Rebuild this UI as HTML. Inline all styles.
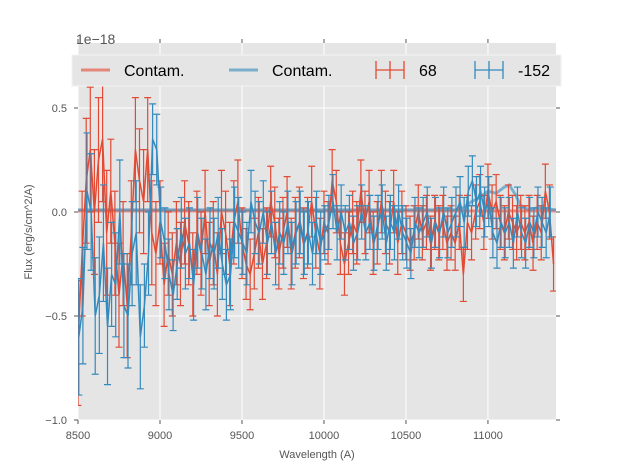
<!DOCTYPE html>
<html><head><meta charset="utf-8"><style>
html,body{margin:0;padding:0;background:#fff}
svg{display:block;font-family:"Liberation Sans",sans-serif}
</style></head><body>
<svg id="chart" width="617" height="467">
<rect x="78" y="43" width="478" height="377" fill="#e5e5e5"/>
<g id="grid"></g>
<g id="contam"></g>
<g id="series"></g>
<g id="axes"></g>
<text x="76" y="44" font-size="14" fill="#555">1e−18</text>
<text x="317" y="458" font-size="11" fill="#555" text-anchor="middle">Wavelength (A)</text>
<text transform="translate(32,232) rotate(-90)" font-size="11" fill="#555" text-anchor="middle">Flux (erg/s/cm^2/A)</text>
<g>
<rect x="72" y="55" width="489" height="31" fill="#e5e5e5" stroke="#f2f2f2"/>
<line x1="81" y1="70" x2="110" y2="70" stroke="#e24a33" stroke-width="3" opacity="0.6"/>
<text x="124" y="76" font-size="16" fill="#000">Contam.</text>
<line x1="229" y1="70" x2="258" y2="70" stroke="#348abd" stroke-width="3" opacity="0.6"/>
<text x="272" y="76" font-size="16" fill="#000">Contam.</text>
<g stroke="#e24a33" stroke-width="1.3"><line x1="376" y1="70" x2="404" y2="70"/><line x1="390" y1="61" x2="390" y2="79"/><line x1="376" y1="61" x2="376" y2="79"/><line x1="404" y1="61" x2="404" y2="79"/></g>
<text x="419" y="76" font-size="16" fill="#000">68</text>
<g stroke="#348abd" stroke-width="1.3"><line x1="475" y1="70" x2="503" y2="70"/><line x1="489" y1="61" x2="489" y2="79"/><line x1="475" y1="61" x2="475" y2="79"/><line x1="503" y1="61" x2="503" y2="79"/></g>
<text x="518" y="76" font-size="16" fill="#000">-152</text>
</g>
</svg>
<script>
const xTicks=[8500,9000,9500,10000,10500,11000];
const yTicks=[-1.0,-0.5,0,0.5];
const yTickLabels=["−1.0","−0.5","0.0","0.5"];
const start68=8500, step68=25;
const flux68=[-0.63,-0.2,0.15,0.3,0.0,0.25,0.35,-0.1,0.1,-0.15,-0.4,-0.2,-0.45,-0.1,0.3,0.15,0.05,0.3,-0.1,-0.2,-0.05,-0.35,-0.2,-0.3,-0.15,-0.25,-0.05,-0.15,-0.3,-0.1,-0.2,0.0,-0.25,-0.15,-0.3,0.0,-0.1,-0.25,-0.05,0.05,-0.15,-0.25,-0.3,-0.2,-0.1,-0.25,-0.15,0.05,-0.05,-0.2,-0.1,0.0,-0.2,-0.1,-0.05,-0.15,-0.1,0.05,-0.1,-0.2,-0.05,-0.1,0.15,0.05,-0.15,-0.25,-0.15,-0.05,-0.1,0.1,-0.05,0.05,-0.15,-0.1,0.05,-0.05,-0.1,0.05,-0.15,-0.05,-0.1,-0.15,-0.1,0.0,-0.1,-0.05,-0.15,-0.05,-0.1,-0.05,-0.15,-0.1,-0.15,-0.05,-0.3,-0.05,-0.1,0.0,0.05,-0.05,0.1,0.0,0.05,-0.05,-0.1,0.0,-0.05,-0.1,-0.05,-0.1,-0.05,-0.15,-0.05,-0.1,0.1,0.0,-0.25];
const err68=[0.3,0.3,0.3,0.3,0.3,0.3,0.3,0.3,0.25,0.25,0.25,0.25,0.25,0.25,0.25,0.25,0.25,0.25,0.25,0.25,0.2,0.2,0.2,0.2,0.2,0.2,0.2,0.2,0.2,0.2,0.2,0.2,0.2,0.2,0.2,0.2,0.2,0.2,0.2,0.2,0.17,0.17,0.17,0.17,0.17,0.17,0.17,0.17,0.17,0.17,0.17,0.17,0.17,0.17,0.17,0.17,0.17,0.17,0.17,0.17,0.15,0.15,0.15,0.15,0.15,0.15,0.15,0.15,0.15,0.15,0.15,0.15,0.15,0.15,0.15,0.15,0.15,0.15,0.15,0.15,0.13,0.13,0.13,0.13,0.13,0.13,0.13,0.13,0.13,0.13,0.13,0.13,0.13,0.13,0.13,0.13,0.13,0.13,0.13,0.13,0.13,0.13,0.13,0.13,0.13,0.13,0.13,0.13,0.13,0.13,0.13,0.13,0.13,0.13,0.13,0.13,0.13];
const start152=8505, step152=25;
const flux152=[-0.6,-0.45,0.1,0.0,-0.5,-0.4,-0.15,-0.55,-0.3,-0.35,0.0,-0.45,-0.5,-0.2,-0.1,-0.6,-0.45,-0.2,0.35,0.3,-0.05,-0.15,-0.3,-0.4,-0.25,-0.1,-0.2,-0.15,-0.35,-0.1,-0.2,-0.3,-0.15,-0.2,-0.1,-0.25,-0.35,-0.3,-0.05,-0.1,-0.15,-0.2,0.05,-0.05,-0.1,0.0,-0.15,-0.05,-0.2,-0.1,-0.15,-0.05,-0.2,-0.1,-0.05,-0.15,-0.1,-0.2,-0.05,-0.15,-0.1,-0.05,0.05,-0.1,0.0,-0.1,-0.05,-0.15,-0.1,0.0,-0.1,-0.05,-0.15,-0.05,0.0,-0.15,-0.05,-0.1,0.0,-0.1,-0.15,-0.2,-0.05,-0.1,-0.05,0.0,-0.15,-0.05,-0.1,0.0,-0.1,-0.05,0.0,0.05,-0.05,0.1,0.15,0.05,0.1,0.0,0.05,-0.1,-0.15,-0.05,-0.1,-0.05,-0.15,0.0,-0.1,-0.15,-0.05,-0.1,0.0,-0.05,-0.1,0.0];
const err152=[0.28,0.28,0.28,0.28,0.28,0.28,0.28,0.28,0.25,0.25,0.25,0.25,0.25,0.25,0.25,0.25,0.2,0.2,0.17,0.17,0.17,0.17,0.17,0.17,0.17,0.17,0.17,0.17,0.17,0.17,0.17,0.17,0.17,0.17,0.17,0.17,0.17,0.17,0.17,0.17,0.15,0.15,0.15,0.15,0.15,0.15,0.15,0.15,0.15,0.15,0.15,0.15,0.15,0.15,0.15,0.15,0.15,0.15,0.15,0.15,0.13,0.13,0.13,0.13,0.13,0.13,0.13,0.13,0.13,0.13,0.13,0.13,0.13,0.13,0.13,0.13,0.13,0.13,0.13,0.13,0.12,0.12,0.12,0.12,0.12,0.12,0.12,0.12,0.12,0.12,0.12,0.12,0.12,0.12,0.12,0.12,0.12,0.12,0.12,0.12,0.12,0.12,0.12,0.12,0.12,0.12,0.12,0.12,0.12,0.12,0.12,0.12,0.12,0.12,0.12,0.12];
const contamRedX=[8500,11415];
const contamRedY=[0.005,0.005];
const contamBlueX=[8500,10800,10850,10900,10950,11000,11050,11100,11130,11170,11200,11250,11300,11415];
const contamBlueY=[0.01,0.01,0.02,0.05,0.07,0.1,0.09,0.12,0.13,0.08,0.03,0.01,0.02,0.01];

const X0=78,X1=556,XMIN=8500,XMAX=11415,Y0=420,Y1=43,YMIN=-1.0,YMAX=0.8125;
const sx=v=>X0+(v-XMIN)/(XMAX-XMIN)*(X1-X0);
const sy=v=>Y0-(v-YMIN)/(YMAX-YMIN)*(Y0-Y1);
const NS="http://www.w3.org/2000/svg";
function mk(tag,attrs,parent){const e=document.createElementNS(NS,tag);for(const k in attrs)e.setAttribute(k,attrs[k]);parent.appendChild(e);return e;}
const grid=document.getElementById('grid'),axes=document.getElementById('axes'),ser=document.getElementById('series'),con=document.getElementById('contam');
xTicks.forEach(t=>{
  const g=mk('line',{x1:sx(t),x2:sx(t),y1:Y1,y2:Y0,stroke:'#fff','stroke-width':1},grid);
  
  
  mk('line',{x1:sx(t),x2:sx(t),y1:Y0,y2:Y0+4,stroke:'#555'},axes);
  mk('line',{x1:sx(t),x2:sx(t),y1:Y1,y2:Y1-4,stroke:'#555'},axes);
  const l=mk('text',{x:sx(t),y:Y0+19,'font-size':11,fill:'#555','text-anchor':'middle'},axes);
  l.textContent=t;
  
  
});
yTicks.forEach((t,i)=>{
  const g=mk('line',{x1:X0,x2:X1,y1:sy(t),y2:sy(t),stroke:'#fff','stroke-width':1},grid);
  
  
  mk('line',{x1:X0-4,x2:X0,y1:sy(t),y2:sy(t),stroke:'#555'},axes);
  mk('line',{x1:X1,x2:X1+4,y1:sy(t),y2:sy(t),stroke:'#555'},axes);
  const l=mk('text',{x:X0-11,y:sy(t)+4,'font-size':11,fill:'#555','text-anchor':'end'},axes);
  l.textContent=yTickLabels[i];
  
  
});
function contam(xs,ys,col,name){
  const p=mk('polyline',{points:xs.map((x,i)=>sx(x)+','+sy(ys[i])).join(' '),fill:'none',stroke:col,'stroke-width':3,opacity:0.6},con);
  
  
}
contam(contamRedX,contamRedY,'#e24a33','contam-line-red');
contam(contamBlueX,contamBlueY,'#348abd','contam-line-blue');
const clip=mk('clipPath',{id:'clp'},document.getElementById('chart'));
mk('rect',{x:X0,y:Y1,width:X1-X0,height:Y0-Y1},clip);
ser.setAttribute('clip-path','url(#clp)');
function series(start,step,ys,es,col,name){
  const g=mk('g',{stroke:col,'stroke-width':1.2,fill:'none'},ser);
  
  
  ys.forEach((v,i)=>{
    const x=sx(start+step*i),a=sy(v+es[i]),b=sy(v-es[i]);
    const e=mk('path',{d:`M${x},${a}V${b}M${x-3.5},${a}H${x+3.5}M${x-3.5},${b}H${x+3.5}`},g);
    
    
  });
  const p=mk('polyline',{points:ys.map((v,i)=>sx(start+step*i)+','+sy(v)).join(' '),'stroke-width':1.5},g);
  
  
}
series(start68,step68,flux68,err68,'#e24a33','series-68');
series(start152,step152,flux152,err152,'#348abd','series-152');
</script>
</body></html>
